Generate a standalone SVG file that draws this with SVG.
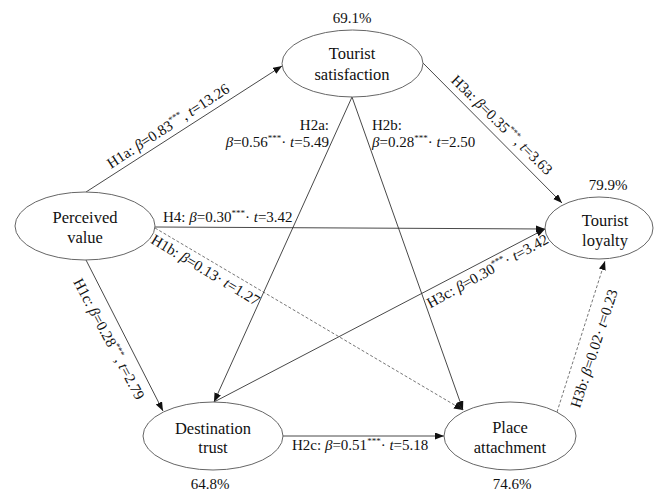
<svg xmlns="http://www.w3.org/2000/svg" width="654" height="493" viewBox="0 0 654 493">
<style>
.e{fill:#fff;stroke:#666;stroke-width:1}
.n{font-family:"Liberation Serif","Times New Roman",serif;font-size:16.5px;fill:#111;text-anchor:middle}
.p{font-family:"Liberation Serif","Times New Roman",serif;font-size:15px;fill:#111;text-anchor:middle}
.l{font-family:"Liberation Serif","Times New Roman",serif;font-size:15px;fill:#111}
.i{font-style:italic}
.s{font-size:9px}
.c{stroke:#333;stroke-width:0.9;fill:none}
.d{stroke:#666;stroke-width:0.9;fill:none;stroke-dasharray:3 2}
</style>
<defs>
<marker id="ah" markerUnits="userSpaceOnUse" markerWidth="10" markerHeight="8" refX="9" refY="3.5" orient="auto">
<path d="M0,0 L9,3.5 L0,7 z" fill="#111"/>
</marker>
</defs>
<g id="connectors">
<line class="c" x1="86" y1="192" x2="282" y2="66" marker-end="url(#ah)"/>
<line class="c" x1="155" y1="227" x2="545" y2="229" marker-end="url(#ah)"/>
<line class="d" x1="155" y1="228" x2="463" y2="410" marker-end="url(#ah)"/>
<line class="c" x1="86" y1="260" x2="163" y2="411" marker-end="url(#ah)"/>
<line class="c" x1="352" y1="97" x2="214" y2="402" marker-end="url(#ah)"/>
<line class="c" x1="352" y1="97" x2="463" y2="410" marker-end="url(#ah)"/>
<line class="c" x1="423" y1="63" x2="562" y2="203" marker-end="url(#ah)"/>
<line class="c" x1="214" y1="402" x2="545" y2="229" marker-end="url(#ah)"/>
<line class="c" x1="283" y1="436" x2="444" y2="436" marker-end="url(#ah)"/>
<line class="d" x1="557" y1="412" x2="605" y2="261" marker-end="url(#ah)"/>
</g>
<g id="labels">
<text class="l" transform="translate(168,126) rotate(-33)" x="0" y="5" text-anchor="middle">H1a: <tspan class="i">β</tspan>=0.83<tspan class="s" dy="-6">***</tspan><tspan dy="6">, </tspan><tspan class="i">t</tspan>=13.26</text>
<text class="l" transform="translate(502,125) rotate(44.5)" x="0" y="5" text-anchor="middle">H3a: <tspan class="i">β</tspan>=0.35<tspan class="s" dy="-6">***</tspan><tspan dy="6">, </tspan><tspan class="i">t</tspan>=3.63</text>
<text class="l" transform="translate(109,339) rotate(62)" x="0" y="5" text-anchor="middle">H1c: <tspan class="i">β</tspan>=0.28<tspan class="s" dy="-6">***</tspan><tspan dy="6">, </tspan><tspan class="i">t</tspan>=2.79</text>
<text class="l" transform="translate(205.5,270) rotate(31)" x="0" y="5" text-anchor="middle">H1b: <tspan class="i">β</tspan>=0.13· <tspan class="i">t</tspan>=1.27</text>
<text class="l" transform="translate(487.5,271) rotate(-29)" x="0" y="5" text-anchor="middle">H3c: <tspan class="i">β</tspan>=0.30<tspan class="s" dy="-6">***</tspan><tspan dy="6">· </tspan><tspan class="i">t</tspan>=3.42</text>
<text class="l" transform="translate(594,348.5) rotate(-72)" x="0" y="5" text-anchor="middle">H3b: <tspan class="i">β</tspan>=0.02· <tspan class="i">t</tspan>=0.23</text>
<text class="l" x="163" y="222">H4: <tspan class="i">β</tspan>=0.30<tspan class="s" dy="-6">***</tspan><tspan dy="6">· </tspan><tspan class="i">t</tspan>=3.42</text>
<text class="l" x="329" y="130" text-anchor="end">H2a:</text>
<text class="l" x="329" y="147" text-anchor="end"><tspan class="i">β</tspan>=0.56<tspan class="s" dy="-6">***</tspan><tspan dy="6">· </tspan><tspan class="i">t</tspan>=5.49</text>
<text class="l" x="372" y="130">H2b:</text>
<text class="l" x="372" y="147"><tspan class="i">β</tspan>=0.28<tspan class="s" dy="-6">***</tspan><tspan dy="6">· </tspan><tspan class="i">t</tspan>=2.50</text>
<text class="l" x="292" y="450">H2c: <tspan class="i">β</tspan>=0.51<tspan class="s" dy="-6">***</tspan><tspan dy="6">· </tspan><tspan class="i">t</tspan>=5.18</text>
</g>
<g id="tourist-satisfaction">
<ellipse class="e" cx="352.5" cy="63.5" rx="70.5" ry="33.5"/>
<text class="n" x="352" y="59">Tourist</text>
<text class="n" x="352" y="80">satisfaction</text>
<text class="p" x="352" y="23">69.1%</text>
</g>
<g id="perceived-value">
<ellipse class="e" cx="85" cy="226" rx="70" ry="34"/>
<text class="n" x="85" y="223">Perceived</text>
<text class="n" x="85" y="243">value</text>
</g>
<g id="tourist-loyalty">
<ellipse class="e" cx="599" cy="228" rx="54" ry="31"/>
<text class="n" x="605" y="226">Tourist</text>
<text class="n" x="605" y="246">loyalty</text>
<text class="p" x="608" y="190">79.9%</text>
</g>
<g id="destination-trust">
<ellipse class="e" cx="213" cy="436" rx="70" ry="34"/>
<text class="n" x="213" y="434">Destination</text>
<text class="n" x="213" y="453">trust</text>
<text class="p" x="210" y="489">64.8%</text>
</g>
<g id="place-attachment">
<ellipse class="e" cx="510" cy="436" rx="66" ry="34"/>
<text class="n" x="510" y="433">Place</text>
<text class="n" x="510" y="453">attachment</text>
<text class="p" x="512" y="489">74.6%</text>
</g>
</svg>
